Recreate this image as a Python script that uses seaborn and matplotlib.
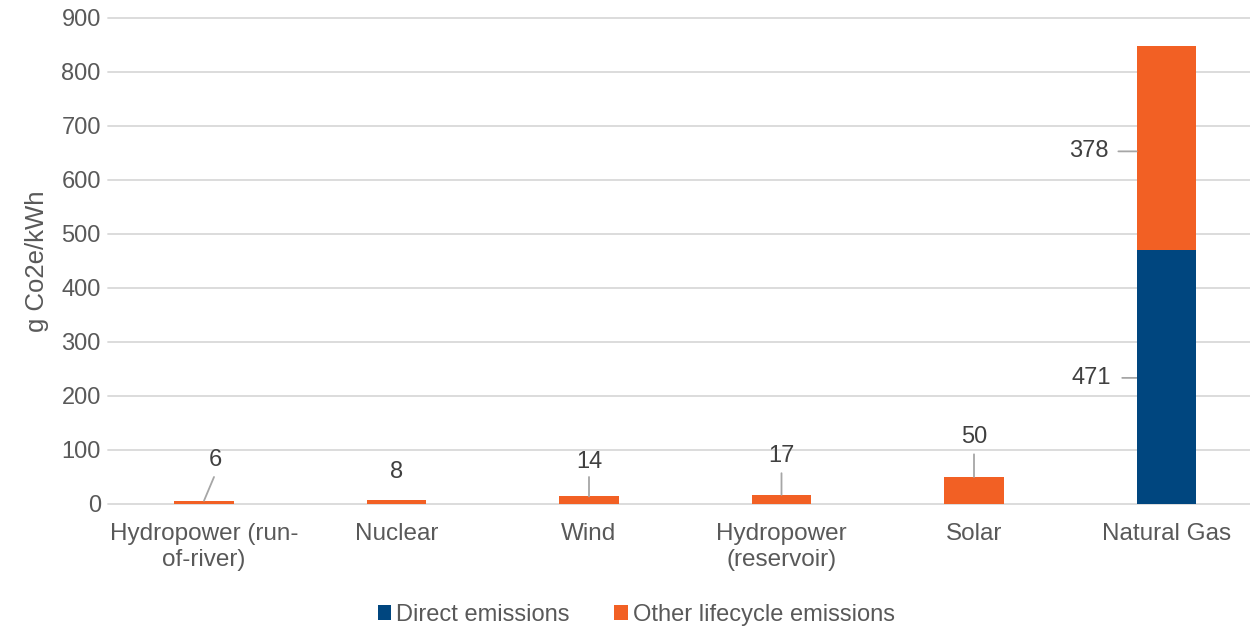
import matplotlib
matplotlib.use("Agg")
import matplotlib.pyplot as plt
from matplotlib.patches import Patch
import pandas as pd
import seaborn as sns

# Lifecycle greenhouse-gas emissions by generation technology (g CO2e/kWh)
categories = [
    "Hydropower (run-\nof-river)",
    "Nuclear",
    "Wind",
    "Hydropower\n(reservoir)",
    "Solar",
    "Natural Gas",
]
direct_emissions = [0, 0, 0, 0, 0, 471]
other_emissions = [6, 8, 14, 17, 50, 378]
series_names = ["Direct emissions", "Other lifecycle emissions"]
y_ticks = [0, 100, 200, 300, 400, 500, 600, 700, 800, 900]

BLUE = "#00467F"
ORANGE = "#F26024"
TEXT = "#595959"
LABEL = "#404040"
GRID = "#D9D9D9"

sns.set_theme(style="white")
plt.rcParams["font.family"] = ["Liberation Sans", "DejaVu Sans"]

df = pd.DataFrame({
    "category": categories,
    "direct": direct_emissions,
    "other": other_emissions,
})
df["total"] = df["direct"] + df["other"]

fig = plt.figure(figsize=(12.5, 6.27), dpi=100)
ax = fig.add_axes([0.0862, 0.1962, 0.924, 0.7751])

# stacked columns: full height in orange, direct part in blue over it
sns.barplot(data=df, x="category", y="total", color=ORANGE, width=0.31,
            saturation=1, linewidth=0, ax=ax, zorder=3)
sns.barplot(data=df, x="category", y="direct", color=BLUE, width=0.31,
            saturation=1, linewidth=0, ax=ax, zorder=4)

ax.set_xlim(-0.5, len(categories) - 0.5)
ax.set_ylim(0, 900)
ax.set_yticks(y_ticks)
ax.set_yticklabels([str(t) for t in y_ticks])
for t in y_ticks:
    ax.axhline(t, color=GRID, lw=1.3, zorder=1, clip_on=False)

for s in ax.spines.values():
    s.set_visible(False)

ax.tick_params(axis="y", length=0, pad=5, labelsize=17, labelcolor=TEXT)
ax.tick_params(axis="x", length=0, pad=14, labelsize=17.5, labelcolor=TEXT)
ax.set_xlabel("")
ax.set_ylabel("g Co2e/kWh", fontsize=18.5, color=TEXT, labelpad=9)

# value labels with leader lines
lead = dict(arrowstyle="-", color="#A6A6A6", lw=1.3, shrinkA=0, shrinkB=0)
label_kw = dict(fontsize=17, color=LABEL, ha="center", va="center", zorder=6)

small = [
    # (index, label x, label y, leader start x, leader start y)
    (0, 0.057, 81, 0.052, 50),
    (1, 0.0, 59, None, None),
    (2, 0.0, 78, 0.0, 50),
    (3, 0.0, 89, 0.0, 57),
    (4, 0.0, 124, 0.0, 92),
]
for i, lx, ly, sx, sy in small:
    val = other_emissions[i]
    ax.text(i + lx, ly, str(val), **label_kw)
    if sx is not None:
        ax.annotate("", xy=(i, df["total"][i]), xytext=(i + sx, sy),
                    arrowprops=lead, zorder=5)

g = len(categories) - 1
half = 0.155
d_val = direct_emissions[g]
o_val = other_emissions[g]
ax.text(g - 0.402, d_val + o_val / 2 - 6, str(o_val), **label_kw)
ax.annotate("", xy=(g - half, d_val + o_val / 2 - 7), xytext=(g - 0.25, d_val + o_val / 2 - 7),
            arrowprops=lead)
ax.text(g - 0.39, d_val / 2 - 3, str(d_val), **label_kw)
ax.annotate("", xy=(g - half, d_val / 2 - 2), xytext=(g - 0.23, d_val / 2 - 2),
            arrowprops=lead)

handles = [Patch(facecolor=BLUE, edgecolor="none"),
           Patch(facecolor=ORANGE, edgecolor="none")]
fig.legend(handles, series_names, loc="center", bbox_to_anchor=(0.509, 0.019),
           ncol=2, frameon=False, fontsize=17, labelcolor=TEXT,
           handlelength=0.58, handleheight=0.58, handletextpad=0.2,
           columnspacing=1.9)

fig.savefig("out.png", dpi=100)
